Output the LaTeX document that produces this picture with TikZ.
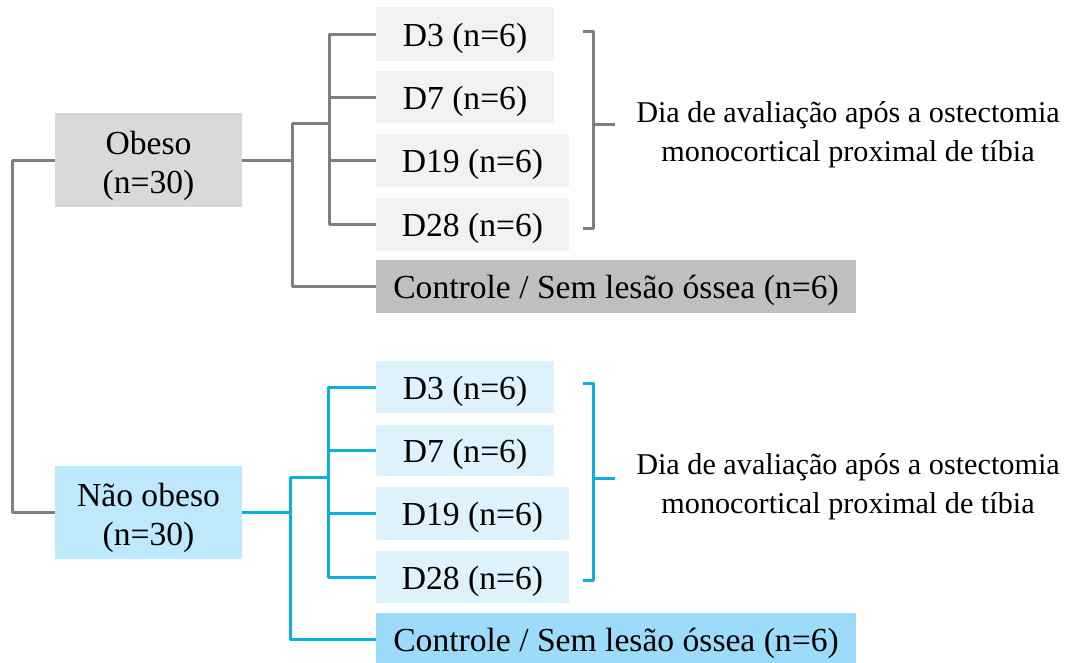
\documentclass[tikz,border=0pt]{standalone}
\usepackage{fontspec}
\setmainfont{Liberation Serif}
\definecolor{greyline}{HTML}{7F7F7F}
\definecolor{blueline}{HTML}{0BB0DD}
\definecolor{greymain}{HTML}{D9D9D9}
\definecolor{greyday}{HTML}{F2F2F2}
\definecolor{greyctrl}{HTML}{BFBFBF}
\definecolor{bluemain}{HTML}{BEE8FC}
\definecolor{blueday}{HTML}{DDF2FD}
\definecolor{bluectrl}{HTML}{9CDBFA}
\begin{document}
\begin{tikzpicture}[x=1pt, y=-1pt]

    \tikzstyle{box} = [rectangle, inner sep=0, align=center, text height=24pt, text depth=0pt, font=\fontsize{33.6}{39}\selectfont]
    \tikzstyle{group} = [box, minimum width=187, minimum height=94, text height=70pt, text depth=3.4pt]
    \tikzstyle{day} = [box, minimum width=178, minimum height=52]
    \tikzstyle{longday} = [box, minimum width=193, minimum height=53]
    \tikzstyle{ctrl} = [box, minimum width=480, minimum height=53]
    \tikzstyle{note} = [align=center, inner sep=0, font=\fontsize{30.2}{39}\selectfont]
    \tikzstyle{link} = [line width=3pt, line join=round]

    \useasboundingbox (0,0) rectangle (1069,662);

    % obeso
    \node[group, fill=greymain] (obeso) at (148.5,160) {Obeso\\(n=30)};
    \node[day, fill=greyday, minimum height=54] (dA3) at (465,34) {D3 (n=6)};
    \node[day, fill=greyday] (dA7) at (465,97) {D7 (n=6)};
    \node[longday, fill=greyday] (dA19) at (472.5,160.5) {D19 (n=6)};
    \node[longday, fill=greyday] (dA28) at (472.5,224.5) {D28 (n=6)};
    \node[ctrl, fill=greyctrl] (ctrlA) at (616,286.5) {Controle / Sem lesão óssea (n=6)};
    \node[note] (noteA) at (848,135) {Dia de avaliação após a ostectomia\\monocortical proximal de tíbia};

    % nao obeso
    \node[group, fill=bluemain, minimum height=93] (naoobeso) at (148.5,512.5) {Não obeso\\(n=30)};
    \node[day, fill=blueday] (dB3) at (465,387) {D3 (n=6)};
    \node[day, fill=blueday, minimum height=51] (dB7) at (465,450.5) {D7 (n=6)};
    \node[longday, fill=blueday] (dB19) at (472.5,513.5) {D19 (n=6)};
    \node[longday, fill=blueday, minimum height=52] (dB28) at (472.5,577) {D28 (n=6)};
    \node[ctrl, fill=bluectrl, minimum height=52] (ctrlB) at (616,639) {Controle / Sem lesão óssea (n=6)};
    \node[note] (noteB) at (848,487) {Dia de avaliação após a ostectomia\\monocortical proximal de tíbia};

    % trunk
    \draw[link, greyline] (obeso.west) -- ++(-42,0) |- (naoobeso.west);

    % obeso branches
    \coordinate (splitA) at (292,123);
    \coordinate (forkA) at (329,123);
    \draw[link, greyline] (obeso.east) -- (obeso.east -| splitA);
    \draw[link, greyline] (splitA) |- (ctrlA.west);
    \draw[link, greyline] (splitA) -- (forkA);
    \draw[link, greyline] (dA3.west) -| (forkA) |- (dA28.west);
    \draw[link, greyline] (dA7.west) -- (dA7.west -| forkA);
    \draw[link, greyline] (dA19.west) -- (dA19.west -| forkA);

    % nao obeso branches
    \coordinate (splitB) at (290,477);
    \coordinate (forkB) at (328,477);
    \draw[link, blueline] (naoobeso.east) -- (naoobeso.east -| splitB);
    \draw[link, blueline] (splitB) |- (ctrlB.west);
    \draw[link, blueline] (splitB) -- (forkB);
    \draw[link, blueline] (dB3.west) -| (forkB) |- (dB28.west);
    \draw[link, blueline] (dB7.west) -- (dB7.west -| forkB);
    \draw[link, blueline] (dB19.west) -- (dB19.west -| forkB);

    % braces
    \coordinate (braceA) at (593,124);
    \coordinate (braceB) at (593,478);
    \draw[link, greyline] (583,31) -- (593,31) -- (593,228) -- (583,228);
    \draw[link, greyline] (braceA) -- ++(22,0);
    \draw[link, blueline] (583,383) -- (593,383) -- (593,580) -- (583,580);
    \draw[link, blueline] (braceB) -- ++(22,0);
\end{tikzpicture}
\end{document}
